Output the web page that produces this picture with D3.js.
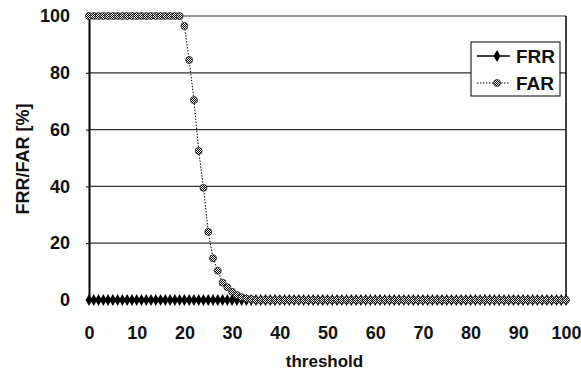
<html>
<head>
<script src="https://d3js.org/d3.v7.min.js"></script>
<style>
  body { margin: 0; background: #fff; }
  text { font-family: "Liberation Sans", Arial, sans-serif; font-weight: bold; fill: #111; }
</style>
</head>
<body>
<script>
// data
var thresholds = d3.range(0, 101);
var FRR = [0,0,0,0,0,0,0,0,0,0, 0,0,0,0,0,0,0,0,0,0, 0,0,0,0,0,0,0,0,0,0,
           0,0,0,0,0,0,0,0,0,0, 0,0,0,0,0,0,0,0,0,0, 0,0,0,0,0,0,0,0,0,0,
           0,0,0,0,0,0,0,0,0,0, 0,0,0,0,0,0,0,0,0,0, 0,0,0,0,0,0,0,0,0,0,
           0,0,0,0,0,0,0,0,0,0, 0];
var FAR = [100,100,100,100,100,100,100,100,100,100, 100,100,100,100,100,100,100,100,100,100,
           96.5,84.5,70.4,52.5,39.5,24,14.7,10.3,6.1,4.5,
           2.9,1.8,1.0,0.5,0.3,0,0,0,0,0, 0,0,0,0,0,0,0,0,0,0,
           0,0,0,0,0,0,0,0,0,0, 0,0,0,0,0,0,0,0,0,0, 0,0,0,0,0,0,0,0,0,0,
           0,0,0,0,0,0,0,0,0,0, 0,0,0,0,0,0,0,0,0,0, 0];
var xTicks = [0,10,20,30,40,50,60,70,80,90,100];
var yTicks = [0,20,40,60,80,100];

var w = 581, h = 371;
var x = d3.scaleLinear().domain([0, 100]).range([89, 566]);
var y = d3.scaleLinear().domain([0, 100]).range([300, 16]);

var svg = d3.select("body").append("svg").attr("width", w).attr("height", h);

// checker pattern for FAR markers
var defs = svg.append("defs");
var pat = defs.append("pattern").attr("id", "chk").attr("width", 2).attr("height", 2)
  .attr("patternUnits", "userSpaceOnUse");
pat.append("rect").attr("width", 2).attr("height", 2).attr("fill", "#fff");
pat.append("rect").attr("width", 1).attr("height", 1).attr("fill", "#000");
pat.append("rect").attr("x", 1).attr("y", 1).attr("width", 1).attr("height", 1).attr("fill", "#000");

// gridlines
svg.append("g").selectAll("line").data(yTicks.filter(function(d){ return d > 0; })).enter()
  .append("line")
  .attr("x1", x(0)).attr("x2", x(100))
  .attr("y1", function(d){ return y(d); }).attr("y2", function(d){ return y(d); })
  .attr("stroke", "#333").attr("stroke-width", 1.2);

// right border
svg.append("line").attr("x1", x(100)).attr("x2", x(100)).attr("y1", y(100)).attr("y2", y(0))
  .attr("stroke", "#000").attr("stroke-width", 1.5);

// axes
var yAxis = d3.axisLeft(y).tickValues(yTicks).tickSize(3).tickPadding(16);
var xAxis = d3.axisBottom(x).tickValues(xTicks).tickSize(0).tickPadding(26);
var gy = svg.append("g").attr("transform", "translate(" + x(0) + ",0)").call(yAxis);
var gx = svg.append("g").attr("transform", "translate(0," + y(0) + ")").call(xAxis);
[gx, gy].forEach(function(g){
  g.select(".domain").attr("stroke", "#000").attr("stroke-width", 2);
  g.selectAll("text").style("font-size", "18px").attr("fill", "#111");
});
gy.selectAll(".tick line").attr("stroke", "#000");

// FAR line
var line = function(vals){
  return d3.line().x(function(d){ return x(d); }).y(function(d, i){ return y(vals[i]); })(thresholds);
};
svg.append("path").attr("d", line(FAR)).attr("fill", "none").attr("stroke", "#000")
  .attr("stroke-width", 1).attr("stroke-dasharray", "1.5,1.5");

// FRR line and diamonds
svg.append("path").attr("d", line(FRR)).attr("fill", "none").attr("stroke", "#000").attr("stroke-width", 2);
var diamond = d3.symbol().type(d3.symbolDiamond).size(40);
svg.append("g").selectAll("path").data(thresholds).enter().append("path")
  .attr("d", diamond)
  .attr("transform", function(d, i){ return "translate(" + x(d) + "," + y(FRR[i]) + ")"; })
  .attr("fill", "#000");

// FAR markers
svg.append("g").selectAll("circle").data(thresholds).enter().append("circle")
  .attr("cx", function(d){ return x(d); })
  .attr("cy", function(d, i){ return y(FAR[i]); })
  .attr("r", 3.5)
  .attr("fill", "url(#chk)").attr("stroke", "#222").attr("stroke-width", 0.8);

// axis titles
svg.append("text").attr("x", x(50) - 3).attr("y", 367).attr("text-anchor", "middle")
  .style("font-size", "17px").text("threshold");
svg.append("text").attr("transform", "translate(29,159) rotate(-90)").attr("text-anchor", "middle")
  .style("font-size", "18px").text("FRR/FAR [%]");

// legend
var lg = svg.append("g").attr("transform", "translate(471,42)");
lg.append("rect").attr("width", 89).attr("height", 54).attr("fill", "#fff")
  .attr("stroke", "#000").attr("stroke-width", 1);
lg.append("line").attr("x1", 6).attr("x2", 39).attr("y1", 14).attr("y2", 14)
  .attr("stroke", "#000").attr("stroke-width", 1.5);
lg.append("path").attr("d", diamond).attr("transform", "translate(26,14)").attr("fill", "#000");
lg.append("line").attr("x1", 6).attr("x2", 39).attr("y1", 41).attr("y2", 41)
  .attr("stroke", "#000").attr("stroke-width", 1).attr("stroke-dasharray", "1.5,1.5");
lg.append("circle").attr("cx", 26).attr("cy", 41).attr("r", 3.5)
  .attr("fill", "url(#chk)").attr("stroke", "#222").attr("stroke-width", 0.8);
lg.append("text").attr("x", 45).attr("y", 21).style("font-size", "19px").text("FRR");
lg.append("text").attr("x", 45).attr("y", 48).style("font-size", "19px").text("FAR");
</script>
</body>
</html>
